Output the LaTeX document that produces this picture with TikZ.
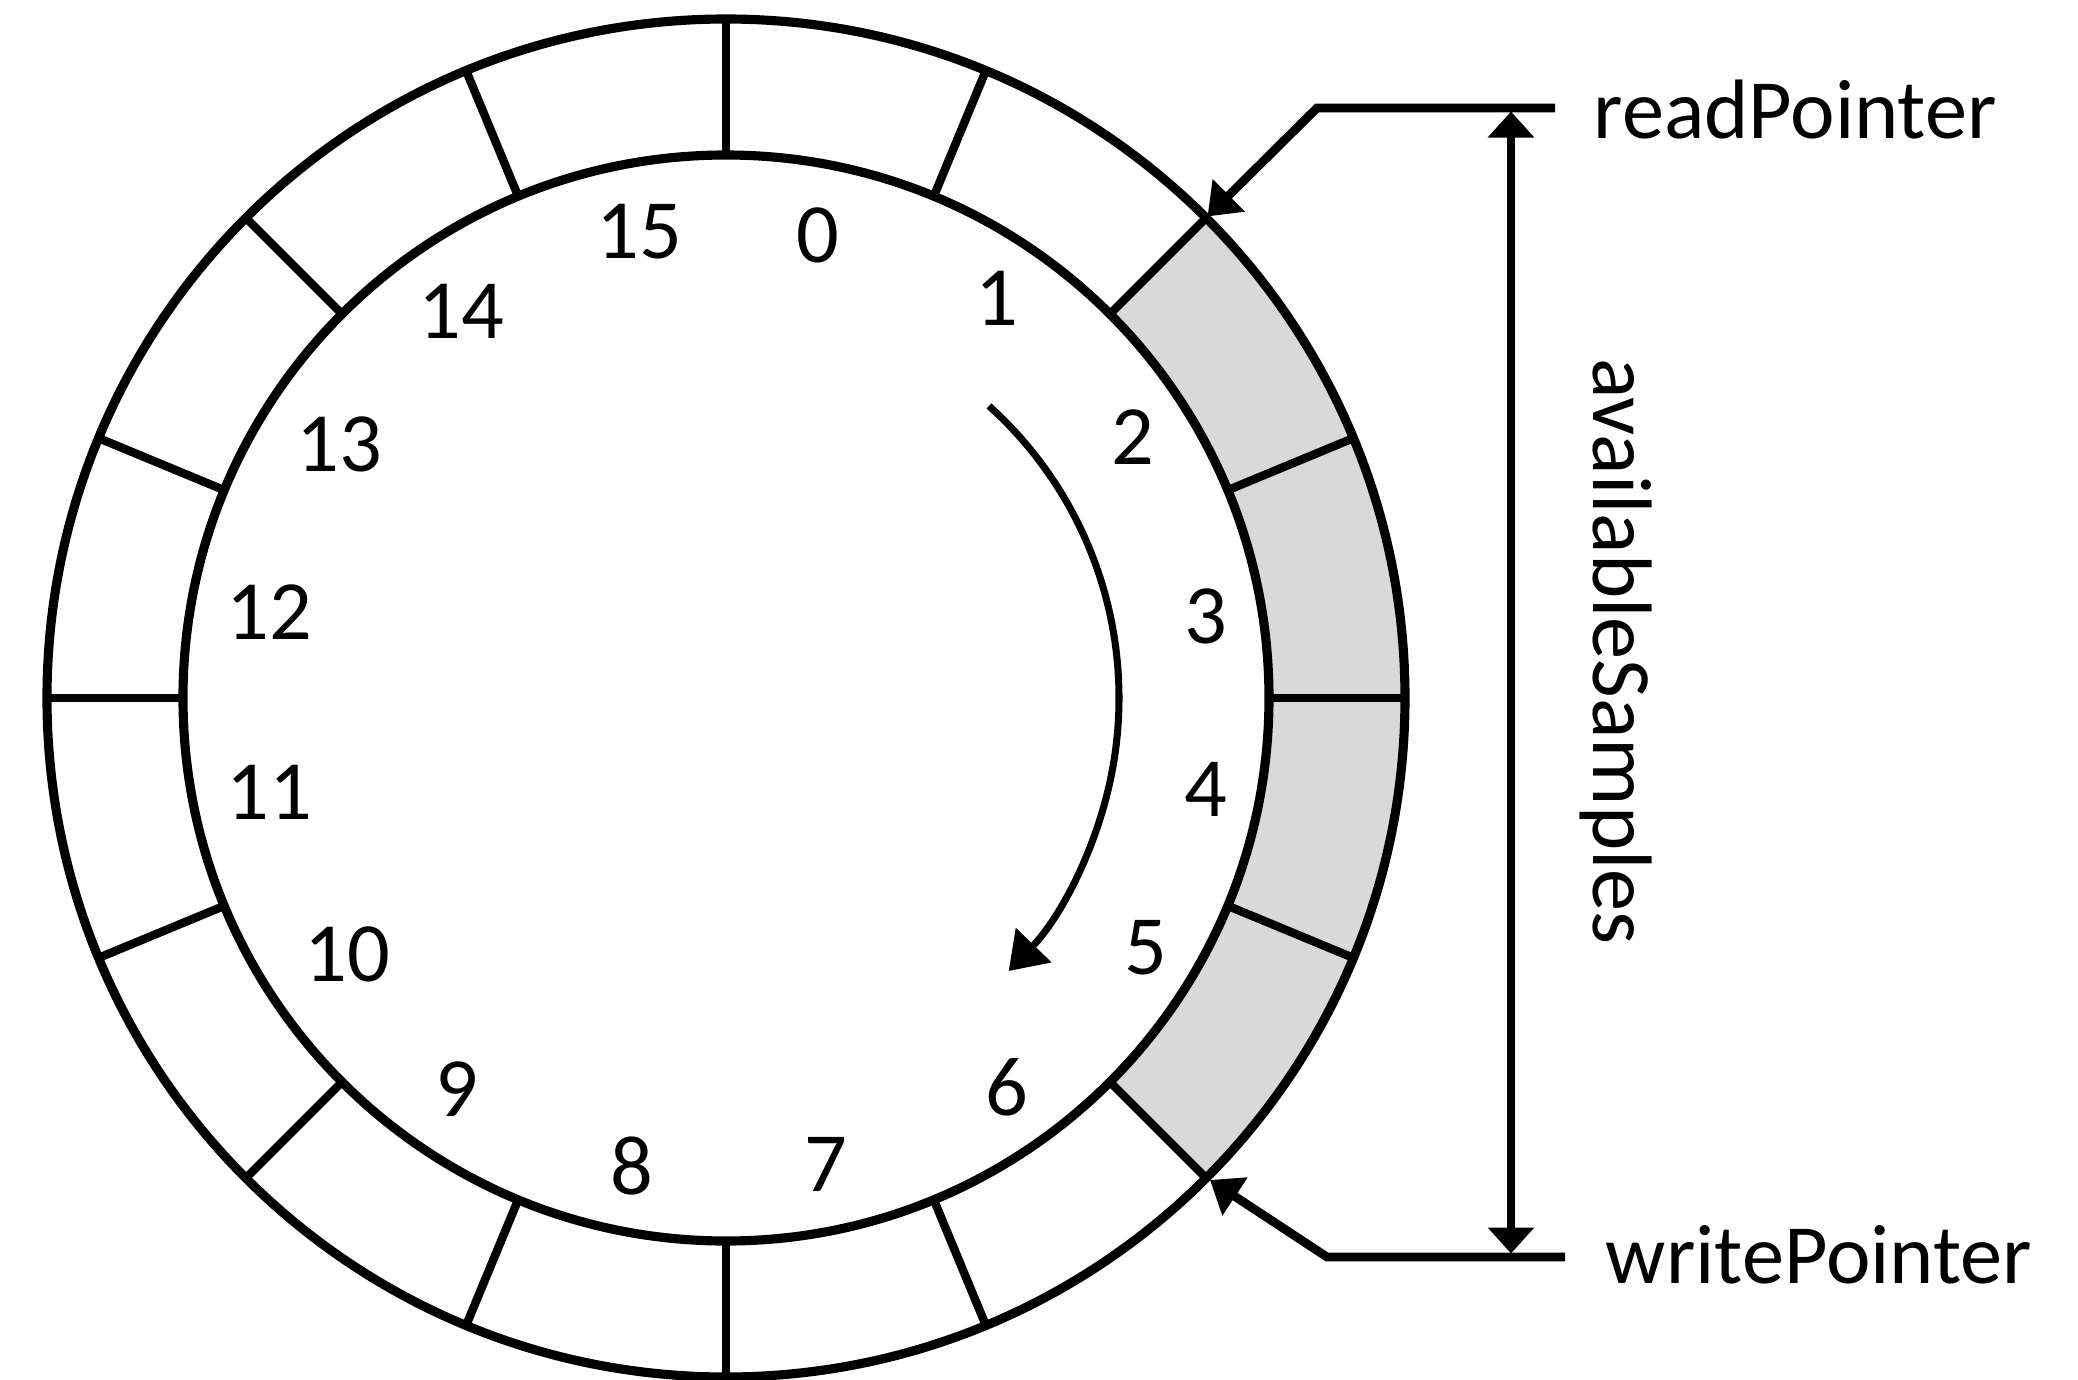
\documentclass[tikz,border=0pt]{standalone}
\usepackage{fontspec}
\setmainfont{Carlito}
\usetikzlibrary{arrows.meta}

\begin{document}
\begin{tikzpicture}
    \tikzset{ring/.style = {line width=2.6pt}}
    \tikzset{divider/.style = {line width=2.4pt}}
    \tikzset{num/.style = {font=\fontsize{24}{28}\selectfont, inner sep=0pt}}
    \tikzset{lbl/.style = {font=\fontsize{24}{28}\selectfont, inner sep=0pt}}
    \tikzset{ptr/.style = {-{Triangle[length=0.3cm, width=0.44cm]}, line width=2.5pt}}
    \tikzset{span/.style = {{Triangle[length=0.26cm, width=0.45cm]}-{Triangle[length=0.26cm, width=0.45cm]}, line width=2.1pt}}
    \tikzset{turn/.style = {-{Triangle[length=0.36cm, width=0.48cm]}, line width=2pt}}

    \useasboundingbox (-7.26,-6.81) rectangle (13.52,6.98);

    % samples waiting to be read
    \fill[gray!30] (-45:5.43) arc (-45:45:5.43) -- (45:6.79) arc (45:-45:6.79) -- cycle;

    \draw[ring] (0,0) circle (6.79);
    \draw[ring] (0,0) circle (5.43);
    \foreach \a in {0,22.5,...,337.5}
        \draw[divider] (\a:5.43) -- (\a:6.79);

    \foreach \i/\x/\y in {0/0.92/4.63, 1/2.71/4.00, 2/4.07/2.61, 3/4.80/0.82,
                          4/4.80/-0.91, 5/4.20/-2.50, 6/2.81/-3.89, 7/1.00/-4.66,
                          8/-0.94/-4.68, 9/-2.69/-3.91, 10/-3.79/-2.56, 11/-4.57/-0.94,
                          12/-4.57/0.86, 13/-3.87/2.54, 14/-2.65/3.87, 15/-0.87/4.66}
        \node[num] (N\i) at (\x,\y) {\i};

    \draw[turn] (48:3.93) arc (48:-44:3.93);

    \node[lbl, anchor=base west] (RP) at (8.67,5.60) {readPointer};
    \node[lbl, anchor=base west] (WP) at (8.79,-5.85) {writePointer};
    \node[lbl, rotate=-90, anchor=base] (AS) at (8.67,0.46) {availableSamples};

    \coordinate (RE) at (8.29,5.90);
    \coordinate (RB) at (5.91,5.90);
    \coordinate (RT) at (45:6.81);
    \coordinate (WE) at (8.39,-5.59);
    \coordinate (WB) at (6.01,-5.59);
    \coordinate (WT) at (4.84,-4.82);
    \coordinate (ST) at (7.85,5.865);
    \coordinate (SB) at (7.85,-5.555);

    \draw[ptr] (RE) -- (RB) -- (RT);
    \draw[ptr] (WE) -- (WB) -- (WT);
    \draw[span] (ST) -- (SB);
\end{tikzpicture}
\end{document}
